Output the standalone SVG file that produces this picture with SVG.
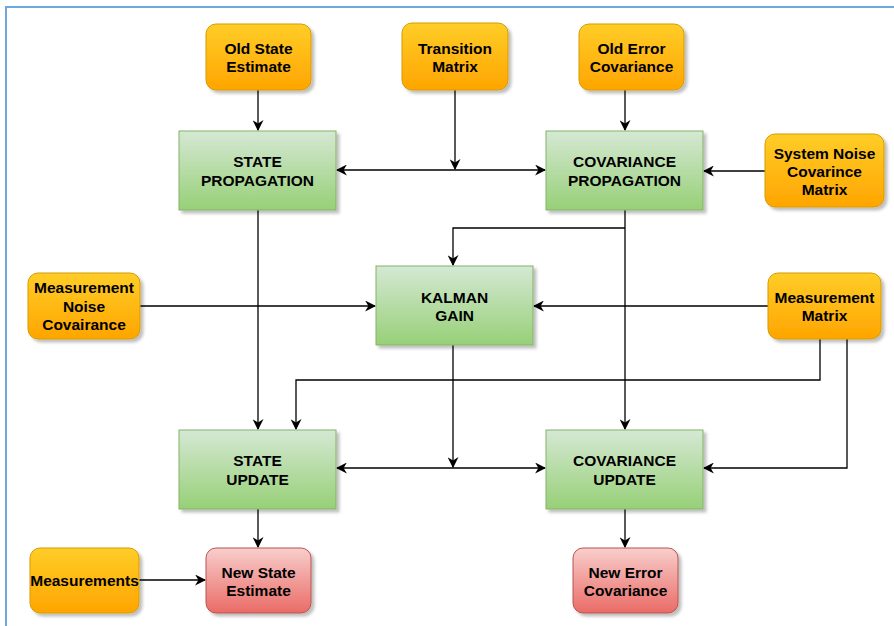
<svg xmlns="http://www.w3.org/2000/svg" width="894" height="626" viewBox="0 0 894 626">
<style>
.t{font-family:"Liberation Sans",Arial,sans-serif;font-weight:bold;font-size:15.5px;fill:#000;text-anchor:middle}
.o{fill:url(#go);stroke:#d79b00;stroke-width:1}
.g{fill:url(#gg);stroke:#82b366;stroke-width:1}
.r{fill:url(#gr);stroke:#b85450;stroke-width:1}
.c{fill:none;stroke:#000;stroke-width:1.3}
</style>
<defs>
<linearGradient id="go" x1="0" y1="0" x2="0" y2="1"><stop offset="0" stop-color="#ffcd28"/><stop offset="1" stop-color="#ffa500"/></linearGradient>
<linearGradient id="gg" x1="0" y1="0" x2="0" y2="1"><stop offset="0" stop-color="#d5e8d4"/><stop offset="1" stop-color="#97d077"/></linearGradient>
<linearGradient id="gr" x1="0" y1="0" x2="0" y2="1"><stop offset="0" stop-color="#f8cecc"/><stop offset="1" stop-color="#ea6b66"/></linearGradient>
<filter id="sh" x="-10%" y="-10%" width="130%" height="130%"><feDropShadow dx="3" dy="3" stdDeviation="1.5" flood-color="#000" flood-opacity="0.25"/></filter>
<marker id="a" viewBox="0 0 10 10" refX="9" refY="5" markerWidth="11" markerHeight="11" markerUnits="userSpaceOnUse" orient="auto-start-reverse"><path d="M0,0 L10,5 L0,10 L3,5 Z" fill="#000"/></marker>
</defs>
<rect width="894" height="626" fill="#fff"/>
<path d="M6,626 V7 H894" fill="none" stroke="#6fa8dc" stroke-width="2"/>

<g id="connectors">
<path class="c" d="M258,90 V130" marker-end="url(#a)"/>
<path class="c" d="M625,90 V130" marker-end="url(#a)"/>
<path class="c" d="M455,90 V169" marker-end="url(#a)"/>
<path class="c" d="M337,170 H545" marker-start="url(#a)" marker-end="url(#a)"/>
<path class="c" d="M765,171 H704" marker-end="url(#a)"/>
<path class="c" d="M258,210 V429" marker-end="url(#a)"/>
<path class="c" d="M625,210 V429" marker-end="url(#a)"/>
<path class="c" d="M625,228 H453 V265" marker-end="url(#a)"/>
<path class="c" d="M140,306 H375" marker-end="url(#a)"/>
<path class="c" d="M768,306 H534" marker-end="url(#a)"/>
<path class="c" d="M820,339 V380 H296 V429" marker-end="url(#a)"/>
<path class="c" d="M847,339 V468 H704" marker-end="url(#a)"/>
<path class="c" d="M453,345 V467" marker-end="url(#a)"/>
<path class="c" d="M337,468 H545" marker-start="url(#a)" marker-end="url(#a)"/>
<path class="c" d="M258,509 V547" marker-end="url(#a)"/>
<path class="c" d="M625,509 V547" marker-end="url(#a)"/>
<path class="c" d="M139,580 H205" marker-end="url(#a)"/>
</g>

<g id="old-state-estimate"><rect class="o" x="206" y="24" width="105" height="66" rx="10" filter="url(#sh)"/><text class="t" x="258.5" y="54">Old State</text><text class="t" x="258.5" y="72">Estimate</text></g>
<g id="transition-matrix"><rect class="o" x="402" y="23" width="106" height="67" rx="10" filter="url(#sh)"/><text class="t" x="455" y="54">Transition</text><text class="t" x="455" y="72">Matrix</text></g>
<g id="old-error-covariance"><rect class="o" x="579" y="24" width="105" height="66" rx="10" filter="url(#sh)"/><text class="t" x="631.5" y="54">Old Error</text><text class="t" x="631.5" y="72">Covariance</text></g>
<g id="state-propagation"><rect class="g" x="179" y="131" width="157" height="79" filter="url(#sh)"/><text class="t" x="257.5" y="167">STATE</text><text class="t" x="257.5" y="186">PROPAGATION</text></g>
<g id="covariance-propagation"><rect class="g" x="546" y="131" width="157" height="79" filter="url(#sh)"/><text class="t" x="624.5" y="167">COVARIANCE</text><text class="t" x="624.5" y="186">PROPAGATION</text></g>
<g id="system-noise"><rect class="o" x="765" y="134" width="119" height="73" rx="10" filter="url(#sh)"/><text class="t" x="824.5" y="159">System Noise</text><text class="t" x="824.5" y="177">Covarince</text><text class="t" x="824.5" y="195">Matrix</text></g>
<g id="measurement-noise"><rect class="o" x="28" y="273" width="112" height="66" rx="10" filter="url(#sh)"/><text class="t" x="84" y="293">Measurement</text><text class="t" x="84" y="312">Noise</text><text class="t" x="84" y="330">Covairance</text></g>
<g id="kalman-gain"><rect class="g" x="376" y="266" width="157" height="79" filter="url(#sh)"/><text class="t" x="454.5" y="303">KALMAN</text><text class="t" x="454.5" y="321">GAIN</text></g>
<g id="measurement-matrix"><rect class="o" x="768" y="273" width="113" height="66" rx="10" filter="url(#sh)"/><text class="t" x="824.5" y="303">Measurement</text><text class="t" x="824.5" y="321">Matrix</text></g>
<g id="state-update"><rect class="g" x="179" y="430" width="157" height="79" filter="url(#sh)"/><text class="t" x="257.5" y="466">STATE</text><text class="t" x="257.5" y="485">UPDATE</text></g>
<g id="covariance-update"><rect class="g" x="546" y="430" width="157" height="79" filter="url(#sh)"/><text class="t" x="624.5" y="466">COVARIANCE</text><text class="t" x="624.5" y="485">UPDATE</text></g>
<g id="measurements"><rect class="o" x="30" y="548" width="109" height="65" rx="10" filter="url(#sh)"/><text class="t" x="84.5" y="586">Measurements</text></g>
<g id="new-state-estimate"><rect class="r" x="206" y="548" width="105" height="65" rx="10" filter="url(#sh)"/><text class="t" x="258.5" y="578">New State</text><text class="t" x="258.5" y="596">Estimate</text></g>
<g id="new-error-covariance"><rect class="r" x="573" y="548" width="105" height="65" rx="10" filter="url(#sh)"/><text class="t" x="625.5" y="578">New Error</text><text class="t" x="625.5" y="596">Covariance</text></g>
</svg>
